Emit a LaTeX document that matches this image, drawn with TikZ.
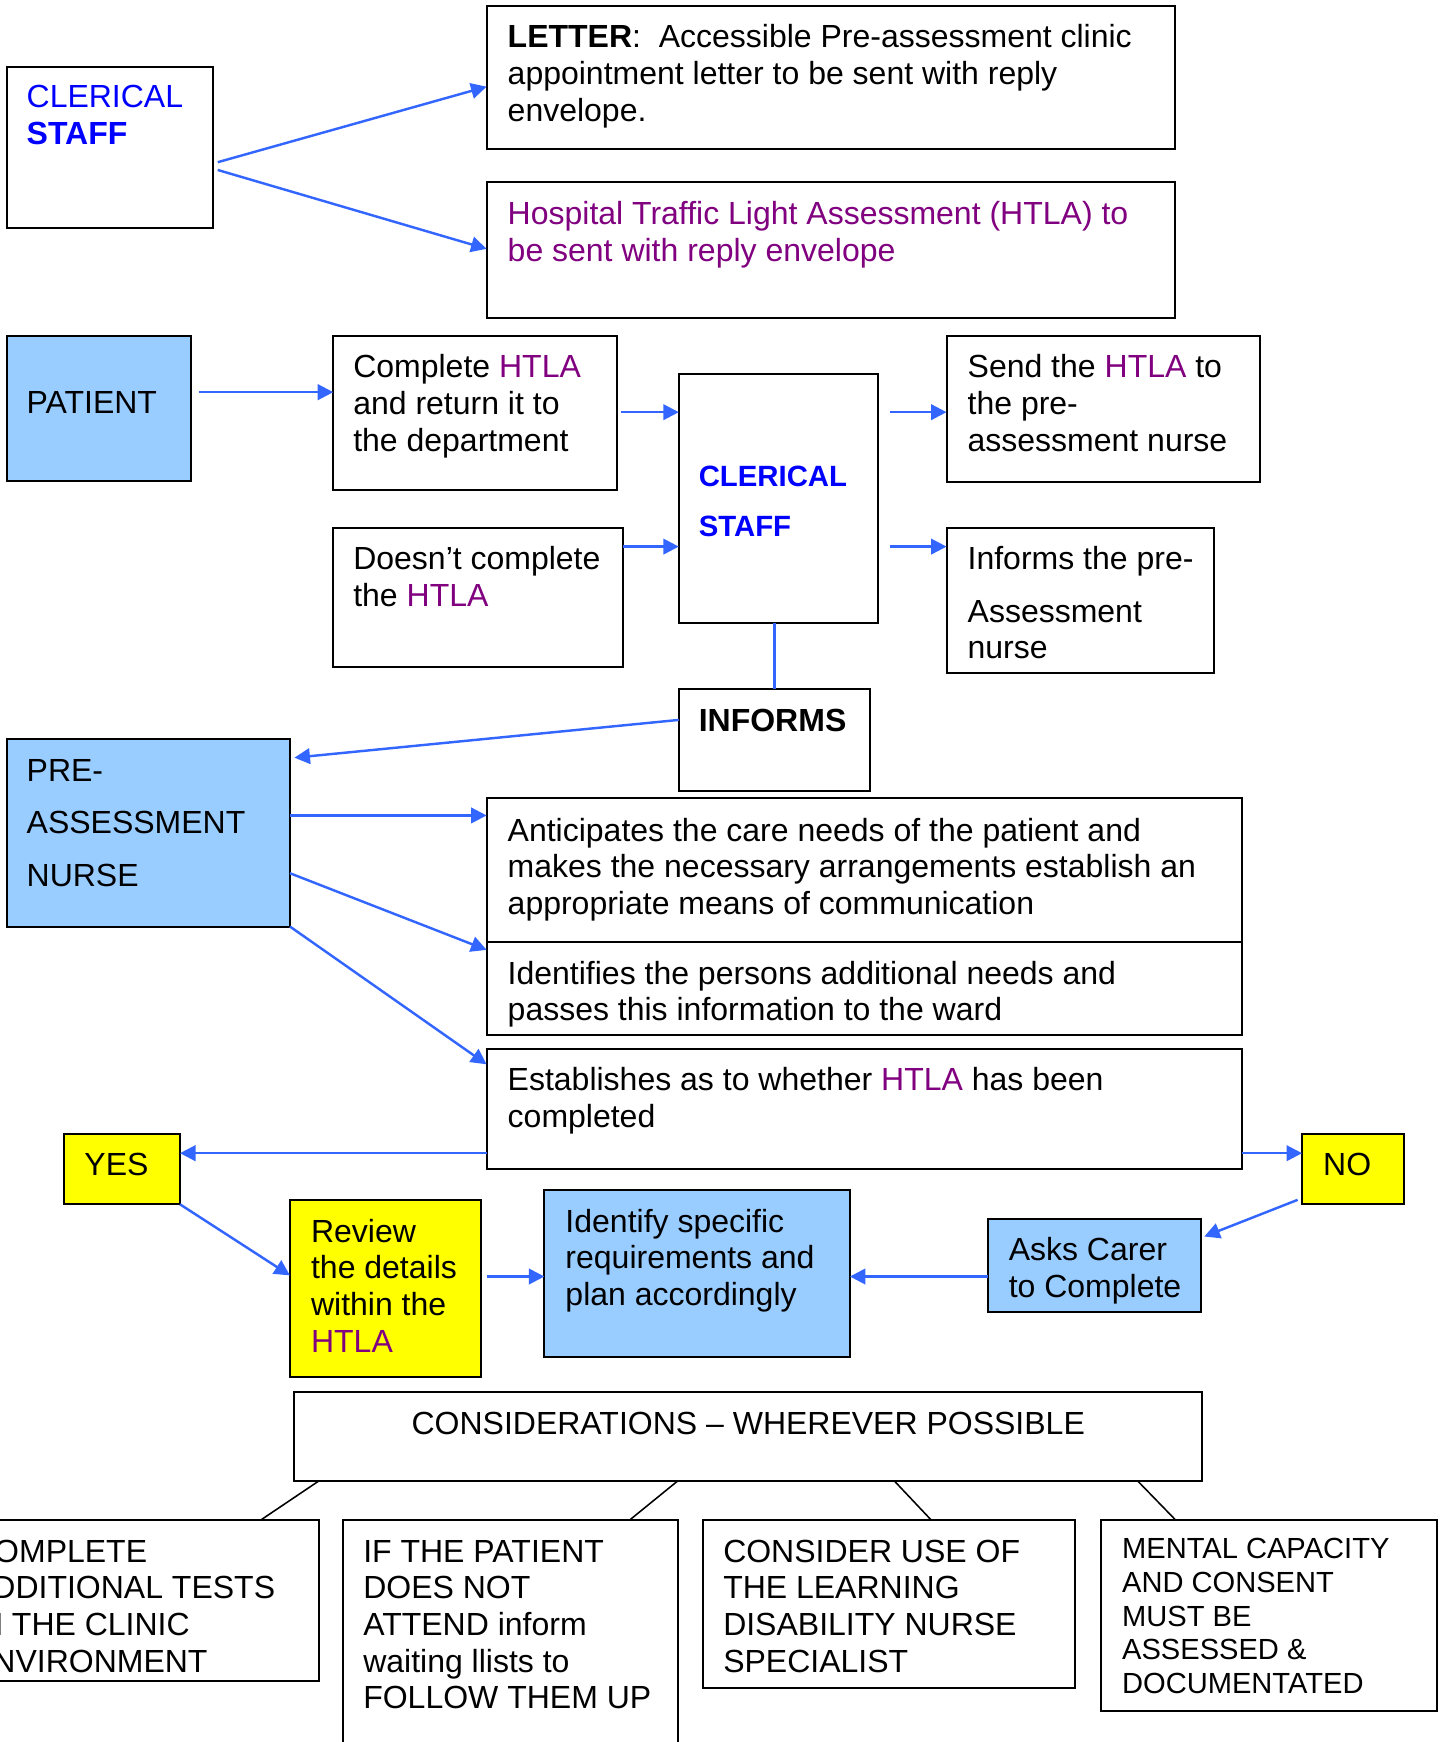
\documentclass[tikz,border=0pt]{standalone}
\usepackage{fontspec}
\setmainfont{Liberation Sans}
\usetikzlibrary{arrows.meta,calc}
\definecolor{txtblue}{RGB}{0,0,255}
\definecolor{htlac}{RGB}{128,0,128}
\definecolor{lblue}{RGB}{153,204,255}
\definecolor{lyellow}{RGB}{255,255,0}
\definecolor{arrblue}{RGB}{51,102,255}
\newcommand\tsr{\rule{0pt}{11pt}}
\newcommand\purp[1]{\textcolor{htlac}{#1}}
\begin{document}
\begin{tikzpicture}[x=0.5pt,y=-0.5pt,
  box/.style={draw=black, line width=0.9pt, anchor=north west, inner sep=0pt, outer sep=0pt},
  bluebox/.style={box, fill=lblue},
  yelbox/.style={box, fill=lyellow},
  txt/.style={anchor=north west, inner sep=0pt, outer sep=0pt, align=left, yshift=11pt,
    font=\fontsize{14.4}{16.5}\selectfont},
  arr/.style={draw=arrblue, line width=1.1pt, -{Triangle[length=7pt,width=7pt]}},
  bline/.style={draw=arrblue, line width=1.1pt},
  kline/.style={draw=black, line width=0.7pt}]
\useasboundingbox (0,0) rectangle (1298,1568);
\clip (0,0) rectangle (1298,1568);
\fill[white] (0,0) rectangle (1298,1568);

% ---------- boxes ----------
\node[box, minimum width=93pt, minimum height=72.5pt] (cler1) at (6,60) {};
\node[box, minimum width=310pt, minimum height=64.5pt] (letter) at (438,5) {};
\node[box, minimum width=310pt, minimum height=61pt] (htlabox) at (438,164) {};
\node[bluebox, minimum width=83pt, minimum height=65.5pt] (patient) at (6,302) {};
\node[box, minimum width=127.5pt, minimum height=69.5pt] (complete) at (300,302) {};
\node[box, minimum width=130.5pt, minimum height=62.5pt] (doesnt) at (300,475) {};
\node[box, minimum width=89.5pt, minimum height=112pt] (cler2) at (611,337) {};
\node[box, minimum width=141pt, minimum height=66pt] (send) at (852,302) {};
\node[box, minimum width=120.5pt, minimum height=65.5pt] (infpre) at (852,475) {};
\node[box, minimum width=86pt, minimum height=46pt] (informs) at (611,620) {};
\node[bluebox, minimum width=127.5pt, minimum height=84.5pt] (nurse) at (6,665) {};
\node[box, minimum width=340pt, minimum height=65pt] (antic) at (438,718) {};
\node[box, minimum width=340pt, minimum height=42pt] (ident) at (438,848) {};
\node[box, minimum width=340pt, minimum height=54pt] (estab) at (438,944) {};
\node[yelbox, minimum width=52pt, minimum height=31.5pt] (yes) at (58,1021) {};
\node[yelbox, minimum width=46pt, minimum height=31.5pt] (no) at (1172,1021) {};
\node[yelbox, minimum width=86pt, minimum height=79.5pt] (review) at (261,1080) {};
\node[bluebox, minimum width=137.5pt, minimum height=75pt] (identify) at (490,1071) {};
\node[bluebox, minimum width=96pt, minimum height=42pt] (asks) at (889,1097) {};
\node[box, minimum width=408.5pt, minimum height=40pt] (cons) at (265,1253) {};
\node[box, minimum width=153.5pt, minimum height=72.5pt] (ctest) at (-20,1368) {};
\node[box, minimum width=150.5pt, minimum height=110pt] (ifpat) at (309,1368) {};
\node[box, minimum width=167.5pt, minimum height=75.5pt] (consider) at (633,1368) {};
\node[box, minimum width=151pt, minimum height=86pt] (mental) at (991,1368) {};

% ---------- texts ----------
\node[txt, text=txtblue] (cler1-t) at (24,97) {\tsr CLERICAL\\\textbf{STAFF}};
\node[txt] (letter-t) at (457,43) {\tsr\textbf{LETTER}:\ \ Accessible Pre-assessment clinic\\appointment letter to be sent with reply\\envelope.};
\node[txt, text=htlac] (htla-t) at (457,202) {\tsr Hospital Traffic Light Assessment (HTLA) to\\be sent with reply envelope};
\node[txt] (patient-t) at (24,372) {\tsr PATIENT};
\node[txt] (complete-t) at (318,340) {\tsr Complete \purp{HTLA}\\and return it to\\the department};
\node[txt] (doesnt-t) at (318,513) {\tsr Doesn’t complete\\the \purp{HTLA}};
\node[txt, text=txtblue, font=\fontsize{13.2}{22.5}\selectfont\bfseries] (cler2-t) at (629,438) {\tsr CLERICAL\\STAFF};
\node[txt] (send-t) at (871,340) {\tsr Send the \purp{HTLA} to\\the pre-\\assessment nurse};
\node[txt] (infpre-t) at (871,513) {\tsr Informs the pre-\\[7pt]Assessment\\nurse};
\node[txt, font=\fontsize{14.4}{16.5}\selectfont\bfseries] (informs-t) at (629,658) {\tsr INFORMS};
\node[txt] (nurse-t) at (24,703) {\tsr PRE-\\[7.25pt]ASSESSMENT\\[7.25pt]NURSE};
\node[txt] (antic-t) at (457,757) {\tsr Anticipates the care needs of the patient and\\makes the necessary arrangements establish an\\appropriate means of communication};
\node[txt] (ident-t) at (457,886) {\tsr Identifies the persons additional needs and\\passes this information to the ward};
\node[txt] (estab-t) at (457,982) {\tsr Establishes as to whether \purp{HTLA} has been\\completed};
\node[txt] (yes-t) at (76,1058) {\tsr YES};
\node[txt] (no-t) at (1191,1058) {\tsr NO};
\node[txt] (review-t) at (280,1118) {\tsr Review\\the details\\within the\\\purp{HTLA}};
\node[txt] (identify-t) at (509,1109) {\tsr Identify specific\\requirements and\\plan accordingly};
\node[txt] (asks-t) at (908,1135) {\tsr Asks Carer\\to Complete};
\node[anchor=base, inner sep=0pt, font=\fontsize{14.4}{16.5}\selectfont] (cons-t) at (673.5,1291) {CONSIDERATIONS – WHEREVER POSSIBLE};
\node[txt] (ctest-t) at (-26,1406) {\tsr COMPLETE\\ADDITIONAL TESTS\\IN THE CLINIC\\ENVIRONMENT};
\node[txt] (ifpat-t) at (327,1406) {\tsr IF THE PATIENT\\DOES NOT\\ATTEND inform\\waiting llists to\\FOLLOW THEM UP};
\node[txt] (consider-t) at (651,1406) {\tsr CONSIDER USE OF\\THE LEARNING\\DISABILITY NURSE\\SPECIALIST};
\node[txt, font=\fontsize{13.1}{15.15}\selectfont] (mental-t) at (1010,1403) {\tsr MENTAL CAPACITY\\AND CONSENT\\MUST BE\\ASSESSED \&\\DOCUMENTATED};

% ---------- connectors ----------
\draw[arr] ([xshift=2pt,yshift=-6.75pt]cler1.east) -- ([yshift=-4.25pt]letter.west);
\draw[arr] ([xshift=2pt,yshift=-10.25pt]cler1.east) -- ([yshift=0.5pt]htlabox.west);
\draw[arr] ([xshift=3.5pt,yshift=7.25pt]patient.east) -- ([yshift=9.25pt]complete.west);
\draw[arr] ([xshift=2pt,yshift=39pt]cler2.west -| complete.east) -- ([yshift=39pt]cler2.west);
\draw[arr] ([yshift=22.75pt]doesnt.east) -- ([yshift=-21.5pt]cler2.west);
\draw[arr] ([xshift=5.5pt,yshift=39pt]cler2.east) -- ([yshift=39pt]cler2.east -| send.west);
\draw[arr] ([xshift=5.5pt,yshift=-21.5pt]cler2.east) -- ([yshift=-21.5pt]cler2.east -| infpre.west);
\draw[bline] (informs.north |- cler2.south) -- (informs.north);
\draw[arr] ([yshift=9pt]informs.west) -- ([xshift=2pt,yshift=33.75pt]nurse.east);
\draw[arr] ([yshift=7.75pt]nurse.east) -- ([yshift=7.75pt]nurse.east -| antic.west);
\draw[arr] ([yshift=-18.25pt]nurse.east) -- ([yshift=17.5pt]ident.west);
\draw[arr] (nurse.south east) -- ([yshift=20pt]estab.west);
\draw[arr] ([yshift=-20pt]estab.west) -- ([yshift=-20pt]estab.west -| yes.east);
\draw[arr] ([yshift=-20pt]estab.east) -- ([yshift=-20pt]estab.east -| no.west);
\draw[arr] (yes.south east) -- ([yshift=5.75pt]review.west);
\draw[arr] ([xshift=2.5pt,yshift=-1.5pt]identify.west -| review.east) -- ([yshift=-1.5pt]identify.west);
\draw[arr] ([xshift=-2pt,yshift=2pt]no.south west) -- ([xshift=1.5pt,yshift=-8pt]asks.north east);
\draw[arr] ([yshift=-1.5pt]identify.east -| asks.west) -- ([yshift=-1.5pt]identify.east);
\draw[kline] ([xshift=11pt]cons.south west) -- ([xshift=-26pt]ctest.north east);
\draw[kline] ([xshift=172.5pt]cons.south west) -- ([xshift=-21.5pt]ifpat.north east);
\draw[kline] ([xshift=270pt]cons.south west) -- ([xshift=102.5pt]consider.north west);
\draw[kline] ([xshift=-29pt]cons.south east) -- ([xshift=33.5pt]mental.north west);
\end{tikzpicture}
\end{document}
